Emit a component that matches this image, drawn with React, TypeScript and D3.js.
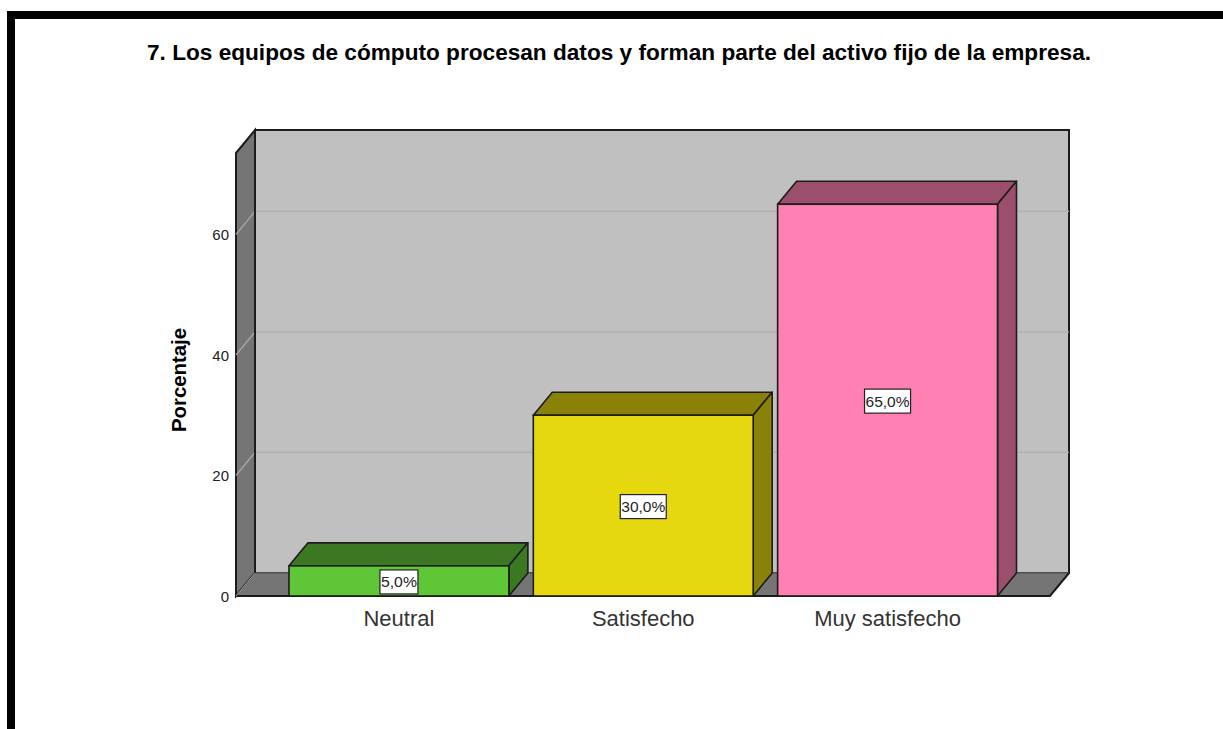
import React from "react";
import * as d3 from "d3";

const title = "7. Los equipos de cómputo procesan datos y forman parte del activo fijo de la empresa.";
const yAxisTitle = "Porcentaje";
const categories = ["Neutral", "Satisfecho", "Muy satisfecho"];
const percentages = [5, 30, 65];
const valueLabels = ["5,0%", "30,0%", "65,0%"];
const yTicks = [0, 20, 40, 60];
const frontColors = ["#5fc637", "#e5d80f", "#ff80b3"];
const darkColors = ["#3c7722", "#8a8208", "#9b4f6d"];

const FONT = "'Liberation Sans', Arial, sans-serif";
const DX = 19;
const DY = -23;
const LEFT = 236;
const RIGHT = 1050;
const BOTTOM = 596;
const TOP = 153;
const STROKE = "#1c1c1c";

const y = d3.scaleLinear().domain([0, 73.5]).range([BOTTOM, TOP]);
const x = d3.scaleBand<string>().domain(categories).range([289, 997.5]).paddingInner(0.1);

const poly = (pts: [number, number][]) => d3.line()(pts)! + "Z";

export default function App() {
  return (
    <svg
      width={1223}
      height={729}
      viewBox="0 0 1223 729"
      style={{ position: "absolute", left: 0, top: 0, display: "block", background: "#fff" }}
    >
      {/* page frame */}
      <rect x={7} y={11} width={1216} height={8} fill="#000" />
      <rect x={7} y={11} width={8} height={718} fill="#000" />

      <text x={619} y={60} textAnchor="middle" fontFamily={FONT} fontWeight={700} fontSize={21.5} textLength={944} lengthAdjust="spacingAndGlyphs" fill="#000">
        {title}
      </text>

      {/* back wall */}
      <rect x={LEFT + DX} y={TOP + DY} width={RIGHT - LEFT} height={BOTTOM - TOP} fill="#c0c0c0" stroke={STROKE} strokeWidth={2} />
      {/* left wall */}
      <path
        d={poly([[LEFT, TOP], [LEFT + DX, TOP + DY], [LEFT + DX, BOTTOM + DY], [LEFT, BOTTOM]])}
        fill="#757575"
        stroke={STROKE}
        strokeWidth={2}
      />
      {/* floor */}
      <path
        d={poly([[LEFT, BOTTOM], [LEFT + DX, BOTTOM + DY], [RIGHT + DX, BOTTOM + DY], [RIGHT, BOTTOM]])}
        fill="#757575"
      />
      <path d={`M${LEFT + DX},${BOTTOM + DY}H${RIGHT + DX}`} stroke="#5e5e5e" strokeWidth={1.5} fill="none" />
      <path d={`M${RIGHT + DX},${BOTTOM + DY}L${RIGHT},${BOTTOM}H${LEFT}`} stroke={STROKE} strokeWidth={2} fill="none" />
      <path d={`M${LEFT + DX},${BOTTOM + DY}L${LEFT},${BOTTOM}`} stroke="#9a9a9a" strokeWidth={1} fill="none" />

      {/* gridlines */}
      {yTicks.filter((t) => t > 0).map((t) => (
        <path
          key={t}
          d={`M${LEFT},${y(t)}L${LEFT + DX},${y(t) + DY}H${RIGHT + DX}`}
          fill="none"
          stroke="#adadad"
          strokeWidth={1.2}
        />
      ))}
      {/* redraw left wall's back edge above gridlines */}
      <path d={`M${LEFT + DX},${TOP + DY}V${BOTTOM + DY}`} stroke={STROKE} strokeWidth={2} fill="none" />

      {/* tick labels */}
      {yTicks.map((t) => (
        <text key={t} x={229} y={y(t) + 6} textAnchor="end" fontFamily={FONT} fontSize={15} fill="#222">
          {t}
        </text>
      ))}

      <text
        transform={`translate(186,380) rotate(-90)`}
        textAnchor="middle"
        fontFamily={FONT}
        fontWeight={700}
        fontSize={21}
        textLength={104}
        lengthAdjust="spacingAndGlyphs"
        fill="#000"
      >
        {yAxisTitle}
      </text>

      {/* bars */}
      {categories.map((c, i) => {
        const x0 = x(c)!;
        const x1 = x0 + x.bandwidth();
        const yt = y(percentages[i]);
        const cx = (x0 + x1) / 2;
        const cy = (yt + BOTTOM) / 2;
        const lw = valueLabels[i].length === 4 ? 38 : 46;
        return (
          <g key={c}>
            <path
              d={poly([[x0, yt], [x0 + DX, yt + DY], [x1 + DX, yt + DY], [x1, yt]])}
              fill={darkColors[i]}
              stroke={STROKE}
              strokeWidth={1.6}
              strokeLinejoin="round"
            />
            <path
              d={poly([[x1, yt], [x1 + DX, yt + DY], [x1 + DX, BOTTOM + DY], [x1, BOTTOM]])}
              fill={darkColors[i]}
              stroke={STROKE}
              strokeWidth={1.6}
              strokeLinejoin="round"
            />
            <rect x={x0} y={yt} width={x.bandwidth()} height={BOTTOM - yt} fill={frontColors[i]} stroke={STROKE} strokeWidth={1.6} />
            <rect x={cx - lw / 2} y={cy - 11} width={lw} height={24} fill="#fff" stroke="#222" strokeWidth={1.2} />
            <text x={cx} y={cy + 6.5} textAnchor="middle" fontFamily={FONT} fontSize={15} fill="#222" textLength={valueLabels[i].length === 4 ? 36 : 44} lengthAdjust="spacingAndGlyphs">
              {valueLabels[i]}
            </text>
            <text x={cx} y={626} textAnchor="middle" fontFamily={FONT} fontSize={22} fill="#333">
              {c}
            </text>
          </g>
        );
      })}
    </svg>
  );
}
